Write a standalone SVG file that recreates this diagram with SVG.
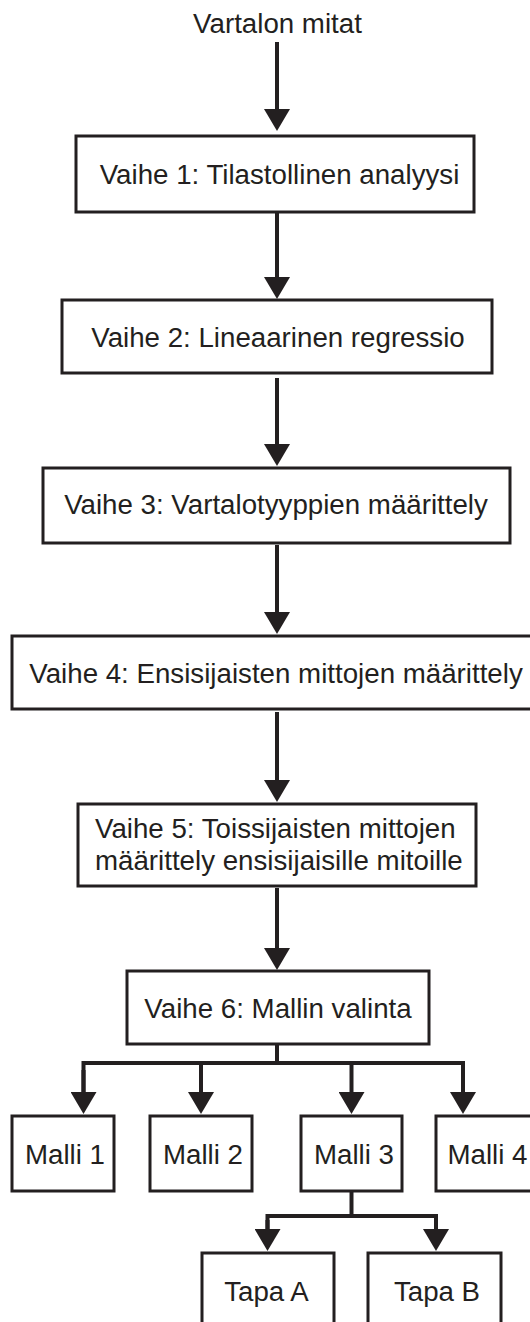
<svg xmlns="http://www.w3.org/2000/svg" width="530" height="1322" viewBox="0 0 530 1322">
<defs>
<style>
.box{fill:#fff;stroke:#231f20;stroke-width:3}
.t{font-family:"Liberation Sans",Arial,sans-serif;font-size:27.7px;fill:#231f20;text-anchor:middle}
.c{fill:none;stroke:#231f20;stroke-width:4;stroke-linejoin:miter}
</style>
<marker id="ah" markerUnits="userSpaceOnUse" markerWidth="22" markerHeight="26" refX="1" refY="13" orient="auto">
<path d="M0,0 L22,13 L0,26 Z" fill="#231f20"/>
</marker>
</defs>
<rect width="530" height="1322" fill="#fff"/>
<g id="connectors">
<path class="c" d="M277,42 V110" marker-end="url(#ah)"/>
<path class="c" d="M277,213 V278" marker-end="url(#ah)"/>
<path class="c" d="M277,378 V445" marker-end="url(#ah)"/>
<path class="c" d="M277,545 V613" marker-end="url(#ah)"/>
<path class="c" d="M277,712 V781" marker-end="url(#ah)"/>
<path class="c" d="M277,888 V949" marker-end="url(#ah)"/>
<path class="c" d="M277,1045 V1063"/>
<path class="c" d="M83.5,1093 V1063 H463 V1093"/>
<path class="c" d="M83.5,1070 V1093" marker-end="url(#ah)"/>
<path class="c" d="M463,1070 V1093" marker-end="url(#ah)"/>
<path class="c" d="M201,1063 V1093" marker-end="url(#ah)"/>
<path class="c" d="M351.5,1063 V1093" marker-end="url(#ah)"/>
<path class="c" d="M351.5,1192 V1216"/>
<path class="c" d="M267.5,1230 V1216 H436 V1230"/>
<path class="c" d="M267.5,1220 V1230" marker-end="url(#ah)"/>
<path class="c" d="M436,1220 V1230" marker-end="url(#ah)"/>
</g>
<g id="title"><text class="t" x="277.5" y="33">Vartalon mitat</text></g>
<g id="vaihe1"><rect class="box" x="76" y="136" width="398" height="76"/><text class="t" x="279.5" y="184">Vaihe 1: Tilastollinen analyysi</text></g>
<g id="vaihe2"><rect class="box" x="62" y="300" width="430" height="73"/><text class="t" x="278" y="347">Vaihe 2: Lineaarinen regressio</text></g>
<g id="vaihe3"><rect class="box" x="43" y="468" width="467" height="75"/><text class="t" x="276" y="514">Vaihe 3: Vartalotyyppien määrittely</text></g>
<g id="vaihe4"><rect class="box" x="12" y="636" width="533" height="73"/><text class="t" x="276" y="683">Vaihe 4: Ensisijaisten mittojen määrittely</text></g>
<g id="vaihe5"><rect class="box" x="78" y="804" width="398" height="82"/><text class="t" x="95" y="838" style="text-anchor:start">Vaihe 5: Toissijaisten mittojen</text><text class="t" x="95" y="870" style="text-anchor:start">määrittely ensisijaisille mitoille</text></g>
<g id="vaihe6"><rect class="box" x="127" y="971" width="302" height="73"/><text class="t" x="278" y="1018">Vaihe 6: Mallin valinta</text></g>
<g id="malli1"><rect class="box" x="12" y="1116" width="102" height="75"/><text class="t" x="65" y="1164">Malli 1</text></g>
<g id="malli2"><rect class="box" x="150" y="1116" width="102" height="75"/><text class="t" x="203" y="1164">Malli 2</text></g>
<g id="malli3"><rect class="box" x="301" y="1116" width="101" height="75"/><text class="t" x="354" y="1164">Malli 3</text></g>
<g id="malli4"><rect class="box" x="436" y="1116" width="110" height="75"/><text class="t" x="487.5" y="1164">Malli 4</text></g>
<g id="tapaA"><rect class="box" x="202" y="1253" width="132" height="90"/><text class="t" x="266.5" y="1301">Tapa A</text></g>
<g id="tapaB"><rect class="box" x="368" y="1253" width="133" height="90"/><text class="t" x="437" y="1301">Tapa B</text></g>
</svg>
